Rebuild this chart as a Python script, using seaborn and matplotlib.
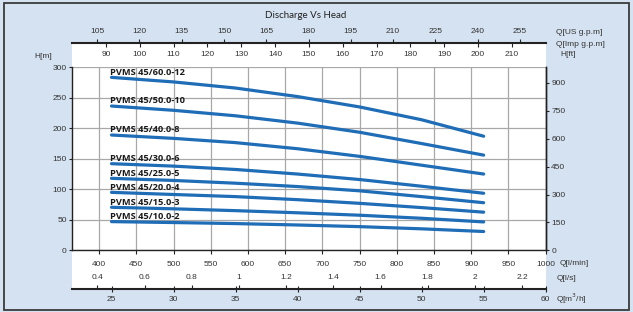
import numpy as np
import pandas as pd
import matplotlib
matplotlib.use("Agg")
import matplotlib.pyplot as plt
import seaborn as sns
from matplotlib.patches import Rectangle

# ---------------- data ----------------
flow_m3h = [25, 30, 35, 40, 45, 50, 55]
models = ["PVMS 45/60.0-12", "PVMS 45/50.0-10", "PVMS 45/40.0-8", "PVMS 45/30.0-6",
          "PVMS 45/25.0-5", "PVMS 45/20.0-4", "PVMS 45/15.0-3", "PVMS 45/10.0-2"]
head_12 = [283.5, 276.0, 266.0, 252.0, 235.0, 214.0, 187.0]
head_10 = [236.5, 229.5, 220.5, 208.5, 193.5, 175.0, 156.0]
head_8 = [189.0, 183.5, 176.5, 166.5, 154.0, 139.5, 125.0]
head_6 = [142.0, 138.0, 132.5, 125.0, 116.0, 105.0, 93.5]
head_5 = [118.0, 114.5, 110.0, 104.5, 97.5, 88.0, 78.0]
head_4 = [95.0, 91.5, 88.0, 83.0, 77.0, 70.0, 62.5]
head_3 = [70.5, 68.0, 65.0, 61.5, 57.5, 52.5, 46.5]
head_2 = [47.0, 45.5, 43.8, 41.5, 38.8, 35.2, 30.8]
heads = [head_12, head_10, head_8, head_6, head_5, head_4, head_3, head_2]

lmin_ticks = [400, 450, 500, 550, 600, 650, 700, 750, 800, 850, 900, 950, 1000]
hm_ticks = [0, 50, 100, 150, 200, 250, 300]
hft_ticks = [0, 150, 300, 450, 600, 750, 900]
us_ticks = [105, 120, 135, 150, 165, 180, 195, 210, 225, 240, 255]
imp_ticks = [90, 100, 110, 120, 130, 140, 150, 160, 170, 180, 190, 200, 210]
ls_ticks = [0.4, 0.6, 0.8, 1.0, 1.2, 1.4, 1.6, 1.8, 2.0, 2.2]
m3h_ticks = [25, 30, 35, 40, 45, 50, 55, 60]

rows = []
for m, hs in zip(models, heads):
    for q, h in zip(flow_m3h, hs):
        rows.append({"model": m, "flow": q * 1000 / 60.0, "head": h})
df = pd.DataFrame(rows)

# ---------------- style ----------------
sns.set_style("white")
plt.rcParams["font.family"] = ["Liberation Sans", "DejaVu Sans"]
TICK_FS = 6
LINE_C = "#1F6DB6"
BG = "#D5E2F1"
GRID_C = "#A8A8A8"

W, H = 633, 312
fig = plt.figure(figsize=(W / 100, H / 100), dpi=100)
fig.patch.set_facecolor(BG)

def fx(px):
    return px / W

def fy(py):
    return 1 - py / H

# outer border
fig.patches.append(Rectangle((fx(4), fy(310)), fx(625), 307 / H, transform=fig.transFigure,
                             fill=False, edgecolor="#3A3A3A", linewidth=1.3, zorder=-2))
# white panel
XL, XR = 72.3, 545.7
fig.patches.append(Rectangle((fx(XL), fy(289.3)), fx(XR - XL), (289.3 - 43) / H,
                             transform=fig.transFigure, facecolor="white",
                             edgecolor="none", zorder=-2))

XMIN, XMAX = 364.0, 1000.0  # l/min

ax = fig.add_axes([fx(XL), fy(250.3), fx(XR - XL), (250.3 - 67.3) / H])
ax.set_facecolor("white")
sns.lineplot(data=df, x="flow", y="head", hue="model", palette=[LINE_C] * len(models),
             legend=False, ax=ax, linewidth=2.3, solid_capstyle="round")
ax.set_xlim(XMIN, XMAX)
ax.set_ylim(0, 300)
ax.set_xticks(lmin_ticks)
ax.set_yticks(hm_ticks)
ax.set_xlabel("")
ax.set_ylabel("")
ax.grid(True, color=GRID_C, linewidth=0.9)
ax.set_axisbelow(True)
for s in ["left", "bottom", "right"]:
    ax.spines[s].set_visible(True)
    ax.spines[s].set_color("#222222")
    ax.spines[s].set_linewidth(1.0)
ax.spines["top"].set_visible(False)
ax.tick_params(axis="x", direction="out", length=3, width=0.8, pad=5, labelsize=TICK_FS,
               colors="#222222", labelcolor="#333333", bottom=True)
ax.tick_params(axis="y", direction="out", length=2.5, width=0.8, pad=1.5, labelsize=TICK_FS,
               colors="#222222", labelcolor="#333333", left=True)
ax.set_xticklabels([str(t) for t in lmin_ticks])

for m, hs in zip(models, heads):
    ax.text(flow_m3h[0] * 1000 / 60.0 - 1.5, hs[0] + 1, m, ha="left", va="bottom",
            fontsize=6.7, fontweight="bold", family=["Open Sans", "DejaVu Sans"],
            color="#1A1A1A")

# right axis in feet
ax2 = ax.twinx()
ax2.set_ylim(0, 300 * 3.28084)
ax2.set_yticks(hft_ticks)
ax2.grid(False)
for s in ["left", "top", "bottom"]:
    ax2.spines[s].set_visible(False)
ax2.spines["right"].set_color("#222222")
ax2.spines["right"].set_linewidth(1.0)
ax2.tick_params(axis="y", direction="out", length=2.5, width=0.8, pad=1.5,
                labelsize=TICK_FS, colors="#222222", labelcolor="#333333", right=True)

def thin_axis(ypx, lim, ticks, labels, side, length, pad, direction="out", spine=True):
    a = fig.add_axes([fx(XL), fy(ypx), fx(XR - XL), 1e-6])
    a.patch.set_visible(False)
    a.set_xlim(*lim)
    a.set_yticks([])
    for s in a.spines.values():
        s.set_visible(False)
    if spine:
        a.spines["bottom"].set_visible(True)
        a.spines["bottom"].set_color("#222222")
        a.spines["bottom"].set_linewidth(1.5)
    a.set_xticks(ticks)
    a.set_xticklabels(labels)
    if side == "top":
        a.tick_params(axis="x", bottom=False, labelbottom=False, top=True, labeltop=True,
                      direction=direction, length=length, pad=pad, width=0.8,
                      labelsize=TICK_FS, colors="#222222", labelcolor="#333333")
    else:
        a.tick_params(axis="x", bottom=True, labelbottom=True, top=False, labeltop=False,
                      direction=direction, length=length, pad=pad, width=0.8,
                      labelsize=TICK_FS, colors="#222222", labelcolor="#333333")
    return a

US = 0.264172
IMP = 0.219969
thin_axis(43, (XMIN * US, XMAX * US), us_ticks, [str(t) for t in us_ticks], "top", 3, 3)
thin_axis(43, (XMIN * IMP, XMAX * IMP), imp_ticks, [str(t) for t in imp_ticks], "bottom", 3, 3,
          spine=False)
thin_axis(289.3, (0.294, 2.3), ls_ticks, ["{:g}".format(t) for t in ls_ticks], "top", 3, 3,
          spine=False)
thin_axis(289.3, (XMIN * 0.06, XMAX * 0.06), m3h_ticks, [str(t) for t in m3h_ticks], "bottom",
          5, 2.5, direction="inout")

# titles / unit labels
fig.text(fx(306), fy(16), "Discharge Vs Head", ha="center", va="center", fontsize=7,
         family=["Lato", "DejaVu Sans"], color="#222222")
unit_kw = dict(ha="left", va="center", fontsize=TICK_FS, color="#333333")
fig.text(fx(34), fy(57), "H[m]", **unit_kw)
fig.text(fx(556), fy(33), "Q[US g.p.m]", **unit_kw)
fig.text(fx(556), fy(45), "Q[Imp g.p.m]", **unit_kw)
fig.text(fx(560), fy(54), "H[ft]", **unit_kw)
fig.text(fx(560), fy(263.5), "Q[l/min]", **unit_kw)
fig.text(fx(557), fy(279), "Q[l/s]", **unit_kw)
fig.text(fx(556), fy(299), "Q[m$^3$/h]", **unit_kw)

fig.savefig("out.png", dpi=100, facecolor=fig.get_facecolor())
